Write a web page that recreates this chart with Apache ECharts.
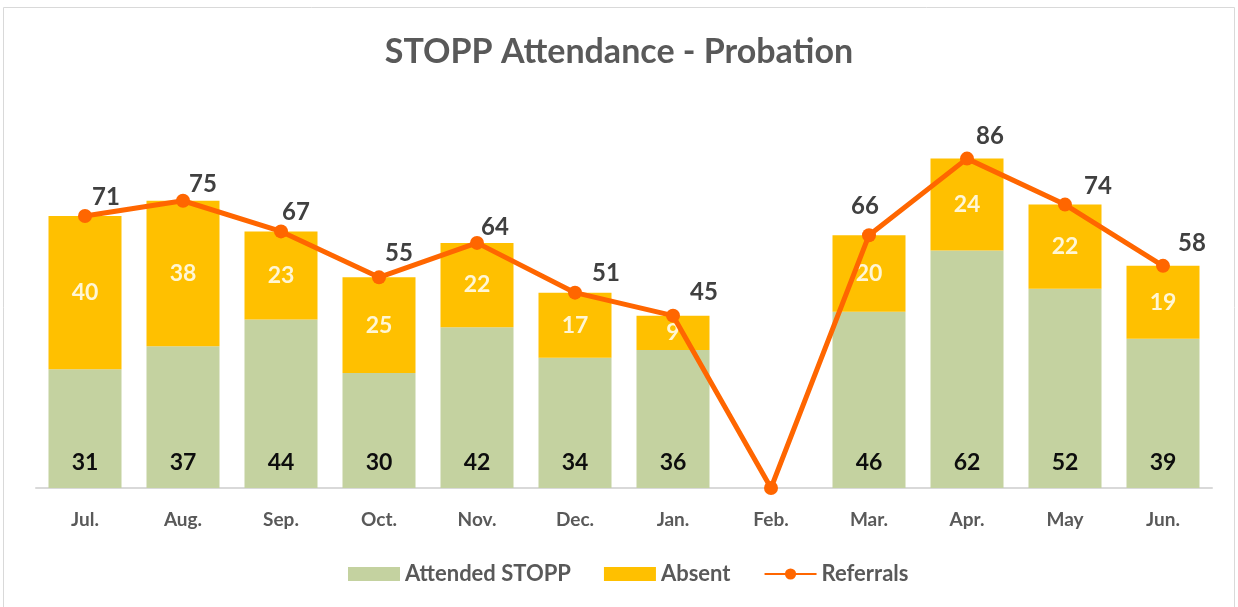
<!DOCTYPE html>
<html>
<head>
<meta charset="utf-8">
<script src="https://cdn.jsdelivr.net/npm/echarts@6/dist/echarts.min.js"></script>
<style>
  html, body { margin: 0; padding: 0; background: #fff; }
  #chart { width: 1238px; height: 607px; }
</style>
</head>
<body>
<div id="chart"></div>
<script>
const months = ['Jul.', 'Aug.', 'Sep.', 'Oct.', 'Nov.', 'Dec.', 'Jan.', 'Feb.', 'Mar.', 'Apr.', 'May', 'Jun.'];
const attended = [31, 37, 44, 30, 42, 34, 36, null, 46, 62, 52, 39];
const absent = [40, 38, 23, 25, 22, 17, 9, null, 20, 24, 22, 19];
const referrals = [71, 75, 67, 55, 64, 51, 45, 0, 66, 86, 74, 58];
// hand placed label offsets (px) for the referral values, as in the original
const refLabelOffsets = [[21, -19], [20, -16], [15, -19], [20, -24], [18, -16], [31, -19], [31, -23], [0, 0], [-4, -29], [23, -22], [33, -18], [29, -23]];

const font = 'Lato, "Open Sans", sans-serif';
const chart = echarts.init(document.getElementById('chart'));
const option = {
  animation: false,
  textStyle: { fontFamily: font },
  graphic: [
    { type: 'rect', shape: { x: 3.5, y: 7.5, width: 1231, height: 610 }, style: { fill: 'none', stroke: '#d9d9d9', lineWidth: 1 }, silent: true }
  ],
  title: {
    text: 'STOPP Attendance - Probation', left: 'center', top: 30,
    textStyle: { fontFamily: font, fontSize: 34, fontWeight: 'bold', color: '#595959' }
  },
  legend: {
    bottom: 17, left: 343, itemWidth: 52, itemHeight: 14, itemGap: 33,
    textStyle: { fontFamily: font, fontSize: 22, fontWeight: 'bold', color: '#595959' },
    data: [
      { name: 'Attended STOPP', icon: 'rect' },
      { name: 'Absent', icon: 'rect' },
      { name: 'Referrals' }
    ]
  },
  grid: { left: 36, right: 26, top: 105, bottom: 119 },
  xAxis: {
    type: 'category', data: months,
    axisLine: { lineStyle: { color: '#d9d9d9', width: 2 } },
    axisTick: { show: false },
    axisLabel: { margin: 22, fontFamily: font, fontSize: 19, fontWeight: 'bold', color: '#595959' }
  },
  yAxis: { type: 'value', min: 0, max: 100, show: false, splitLine: { show: false } },
  series: [
    {
      name: 'Attended STOPP', type: 'bar', stack: 'a', barWidth: 73, data: attended,
      itemStyle: { color: '#c4d2a0' },
      label: { show: true, position: 'insideBottom', distance: 14, fontFamily: font, fontSize: 23, fontWeight: 'bold', color: '#0d0d0d' }
    },
    {
      name: 'Absent', type: 'bar', stack: 'a', barWidth: 73, data: absent,
      itemStyle: { color: '#ffc000' },
      label: { show: true, position: 'inside', fontFamily: font, fontSize: 23, fontWeight: 'bold', color: '#fff6d5' }
    },
    {
      name: 'Referrals', type: 'line',
      data: referrals.map((v, i) => ({ value: v, label: { offset: refLabelOffsets[i] } })),
      symbol: 'circle', symbolSize: 14,
      lineStyle: { color: '#ff6600', width: 5 },
      itemStyle: { color: '#ff6600' },
      label: {
        show: true, position: 'inside', fontFamily: font, fontSize: 24, fontWeight: 'bold', color: '#404040',
        formatter: p => p.value === 0 ? '' : p.value
      },
      z: 5
    }
  ]
};
chart.setOption(option);
</script>
</body>
</html>
